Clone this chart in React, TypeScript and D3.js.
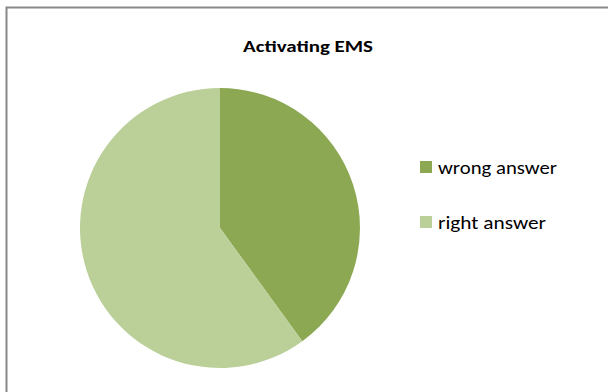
import React from "react";
import * as d3 from "d3";

const categories = ["wrong answer", "right answer"];
const values = [40, 60];
const colors = ["#8DA853", "#BBCF98"];
const title = "Activating EMS";

export default function App() {
  const W = 608, H = 392;
  const cx = 220, cy = 228, r = 140;
  const pie = d3.pie<number>().sort(null).value((d) => d)(values);
  const arc = d3.arc<d3.PieArcDatum<number>>().innerRadius(0).outerRadius(r);
  const font = "Carlito, Calibri, 'Open Sans', sans-serif";
  return (
    <svg width={W} height={H} style={{ position: "absolute", left: 0, top: 0, background: "#fff" }}>
      <rect x={6.5} y={7.5} width={W + 20} height={H + 20} fill="#fff" stroke="#888" strokeWidth={2} />
      <text x={308} y={52} textAnchor="middle" fontFamily={font} fontWeight="bold" fontSize={16.5} fill="#000" textLength={130} lengthAdjust="spacingAndGlyphs">
        {title}
      </text>
      <g transform={`translate(${cx},${cy})`}>
        {pie.map((p, i) => (
          <path key={i} d={arc(p) || ""} fill={colors[i]} />
        ))}
      </g>
      {categories.map((c, i) => (
        <g key={c} transform={`translate(420,${161 + i * 55})`}>
          <rect width={12} height={12} fill={colors[i]} />
          <text x={18} y={13} fontFamily={font} fontSize={19} fill="#000" textLength={i === 0 ? 119 : 108} lengthAdjust="spacingAndGlyphs">
            {c}
          </text>
        </g>
      ))}
    </svg>
  );
}
